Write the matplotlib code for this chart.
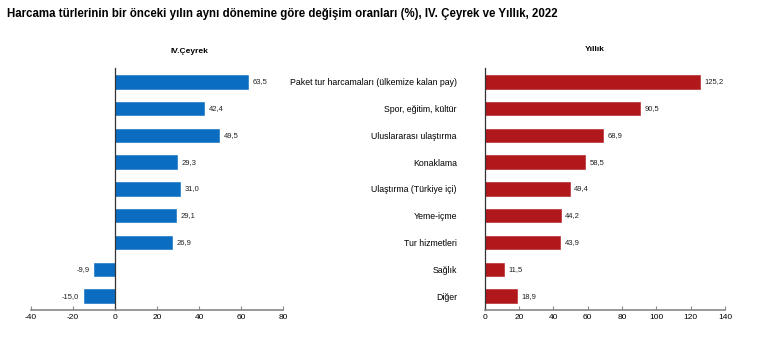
import matplotlib
matplotlib.use("Agg")
import matplotlib.pyplot as plt

plt.rcParams["font.family"] = ["Liberation Sans", "DejaVu Sans"]

TITLE = "Harcama türlerinin bir önceki yılın aynı dönemine göre değişim oranları (%), IV. Çeyrek ve Yıllık, 2022"

categories = [
    "Paket tur harcamaları (ülkemize kalan pay)",
    "Spor, eğitim, kültür",
    "Uluslararası ulaştırma",
    "Konaklama",
    "Ulaştırma (Türkiye içi)",
    "Yeme-içme",
    "Tur hizmetleri",
    "Sağlık",
    "Diğer",
]
quarter_values = [63.5, 42.4, 49.5, 29.3, 31.0, 29.1, 26.9, -9.9, -15.0]
annual_values = [125.2, 90.5, 68.9, 58.5, 49.4, 44.2, 43.9, 11.5, 18.9]

quarter_ticks = [-40, -20, 0, 20, 40, 60, 80]
annual_ticks = [0, 20, 40, 60, 80, 100, 120, 140]

BLUE = "#0A6DC2"
RED = "#B0181C"


def fmt(v):
    return f"{v:.1f}".replace(".", ",")


def draw_panel(ax, values, color, ticks, span):
    y = list(range(len(values)))
    ax.barh(y, values, height=0.5, color=color, edgecolor=color, linewidth=0.4)
    ax.set_ylim(len(values) - 0.48, -0.52)
    ax.set_xlim(ticks[0], ticks[-1])
    ax.set_xticks(ticks)
    ax.set_xticklabels([str(t) for t in ticks], fontsize=6)
    off = span * 0.018
    for yi, v in zip(y, values):
        if v >= 0:
            ax.text(v + off, yi, fmt(v), va="center", ha="left", fontsize=5.5, color="#222222")
        else:
            ax.text(v - off, yi, fmt(v), va="center", ha="right", fontsize=5.5, color="#222222")
    for s in ("top", "right"):
        ax.spines[s].set_visible(False)
    ax.spines["left"].set_position(("data", 0))
    ax.spines["left"].set_color("#333333")
    ax.spines["left"].set_linewidth(0.9)
    ax.spines["bottom"].set_color("#888888")
    ax.spines["bottom"].set_linewidth(1.2)
    ax.tick_params(axis="x", direction="in", length=3, width=0.8, color="#888888", pad=3)


fig = plt.figure(figsize=(7.71, 3.57), dpi=100)

ax1 = fig.add_axes([0.0402, 0.1317, 0.327, 0.678])
draw_panel(ax1, quarter_values, BLUE, quarter_ticks, 120)
ax1.set_yticks([])

ax2 = fig.add_axes([0.6287, 0.1317, 0.3117, 0.678])
draw_panel(ax2, annual_values, RED, annual_ticks, 140)
ax2.set_yticks(range(len(categories)))
ax2.set_yticklabels(categories, fontsize=6.3)
ax2.tick_params(axis="y", length=0, pad=20)

fig.text(0.009, 0.962, TITLE, fontsize=8.3, fontweight="bold", va="center", ha="left")
fig.text(0.246, 0.855, "IV.Çeyrek", fontsize=6, fontweight="bold", ha="center", va="center")
fig.text(0.772, 0.862, "Yıllık", fontsize=6, fontweight="bold", ha="center", va="center")

fig.savefig("out.png", dpi=100)
